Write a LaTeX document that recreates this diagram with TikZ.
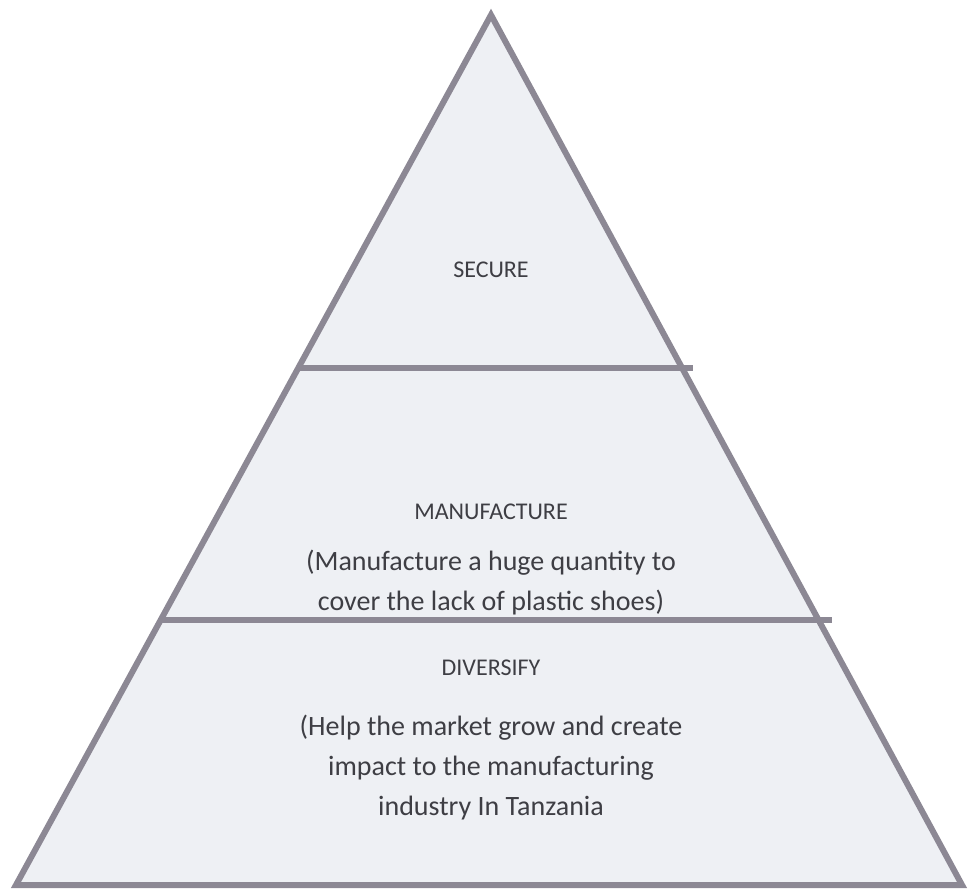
\documentclass[tikz,border=0pt]{standalone}
\usepackage{fontspec}
\setmainfont{Carlito}
\usepackage{tikz}
\usetikzlibrary{calc,positioning}
\definecolor{edgegray}{RGB}{140,136,148}
\definecolor{paper}{RGB}{238,240,244}
\definecolor{inkgray}{RGB}{62,62,68}
\tikzstyle{level} = [draw=edgegray, line width=6pt, line join=miter]
\tikzstyle{title} = [text=inkgray, inner sep=0, font=\fontsize{24}{28}\selectfont]
\tikzstyle{note} = [text=inkgray, inner sep=0, align=center, font=\fontsize{28}{40}\selectfont]
\tikzset{x=1pt, y=-1pt}

\begin{document}
\begin{tikzpicture}
\useasboundingbox (0,0) rectangle (968,890);

\coordinate (top) at (491,15);
\coordinate (bl) at (16,885);
\coordinate (br) at (962,885);

% split points on the sides
\coordinate (s1l) at ($(top)!0.406!(bl)$);
\coordinate (s1r) at ($(top)!0.406!(br)+(11,0)$);
\coordinate (s2l) at ($(top)!0.695!(bl)$);
\coordinate (s2r) at ($(top)!0.695!(br)+(14,0)$);

\fill[paper] (top) -- (bl) -- (br) -- cycle;
\draw[level] (s1l) -- (s1r);
\draw[level] (s2l) -- (s2r);
\draw[level] (top) -- (bl) -- (br) -- cycle;

\node[title] (secure) at (491,270) {SECURE};

\node[title] (manu) at (491,512) {MANUFACTURE};
\node[note] (manunote) at (491,583) {(Manufacture a huge quantity to\\cover the lack of plastic shoes)};

\node[title] (divers) at (491,668) {DIVERSIFY};
\node[note] (diversnote) at (491,768) {(Help the market grow and create\\impact to the manufacturing\\industry In Tanzania};
\end{tikzpicture}
\end{document}
